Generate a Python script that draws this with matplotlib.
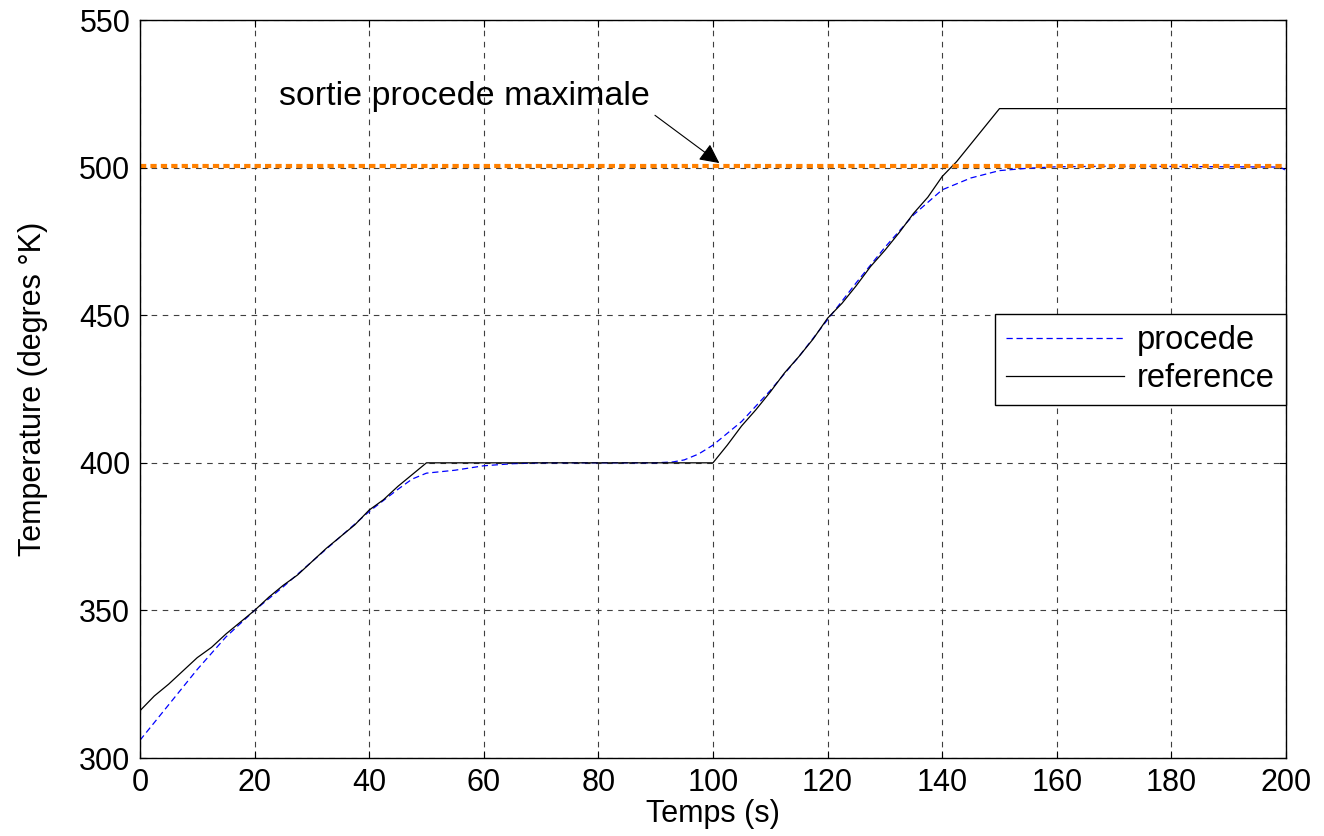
import matplotlib.pyplot as plt

plt.rcParams['font.family'] = ['Liberation Sans', 'DejaVu Sans']

# Signal de reference (consigne)
temps_ref = [0, 2.5, 5, 7.5, 10, 12.5, 15, 17.5, 20, 22.5, 25, 27.5, 30, 32.5, 35, 37.5,
             40, 42.5, 45, 47.5, 50, 100, 102.5, 105, 107.5, 110, 112.5, 115, 117.5,
             120, 122.5, 125, 127.5, 130, 132.5, 135, 137.5, 140, 142.5, 145, 147.5,
             150, 200]
reference = [316, 321, 325, 329.5, 334, 337.5, 342, 346, 350, 354.5, 358.5, 362, 366.5,
             371, 375, 379, 384, 387.5, 392, 396, 400, 400, 406, 412.5, 418, 424, 430.5,
             436, 442, 449, 454, 460, 466.5, 472, 478, 484.5, 490, 497, 502, 508, 514,
             520, 520]

# Sortie du procede
temps_proc = [0, 5, 10, 15, 20, 25, 30, 35, 40, 45, 47.5, 50, 55, 60, 65, 70, 90, 93,
              95, 97.5, 100, 105, 110, 115, 120, 125, 130, 135, 140, 145, 150, 155, 160,
              170, 180, 190, 199, 200]
procede = [306, 318, 330, 341, 350, 358, 366.5, 375, 383.5, 391, 394.5, 396.5, 397.5,
           399, 399.7, 400, 400, 400.3, 401, 403, 406, 414, 424.5, 436, 448.5, 461, 473,
           484, 492.5, 496.5, 499, 499.8, 500.3, 500.5, 500.4, 500.3, 500.2, 499]

sortie_max = 500.7

fig = plt.figure(figsize=(13.24, 8.36), dpi=100)
ax = fig.add_axes([0.1057, 0.0933, 0.8656, 0.8827])

ax.grid(True, color='#404040', linestyle=(0, (5, 5)), linewidth=0.8)
ax.set_axisbelow(True)

ax.plot(temps_proc, procede, color='#0000FF', linewidth=0.9, dashes=(5, 3), label='procede')
ax.plot(temps_ref, reference, color='black', linewidth=0.9, label='reference')
ax.axhline(sortie_max, color='#FF8000', linewidth=3, linestyle=(0, (1.5, 1)))

ax.annotate('sortie procede maximale', xy=(101.5, 501), xytext=(89, 519),
            fontsize=24.5, ha='right', va='bottom',
            arrowprops=dict(arrowstyle='-|>', color='black', lw=0.8, mutation_scale=30,
                            relpos=(1.0, 0.0)))

ax.set_xlim(0, 200)
ax.set_ylim(300, 550)
ax.set_xticks(range(0, 201, 20))
ax.set_yticks(range(300, 551, 50))
ax.tick_params(direction='in', top=True, right=True, labelsize=22, length=5, pad=7)
for spine in ax.spines.values():
    spine.set_linewidth(1)
ax.set_xlabel('Temps (s)', fontsize=22, labelpad=1)
ax.set_ylabel('Temperature (degres °K)', fontsize=22, labelpad=22)

leg = ax.legend(loc='upper right', bbox_to_anchor=(1.0, 0.6016), borderaxespad=0,
                fontsize=23.5, fancybox=False, edgecolor='black', framealpha=1,
                handlelength=3.6, handletextpad=0.4, borderpad=0.35, labelspacing=0.2)
leg.get_frame().set_linewidth(1)

plt.savefig('out.png')
